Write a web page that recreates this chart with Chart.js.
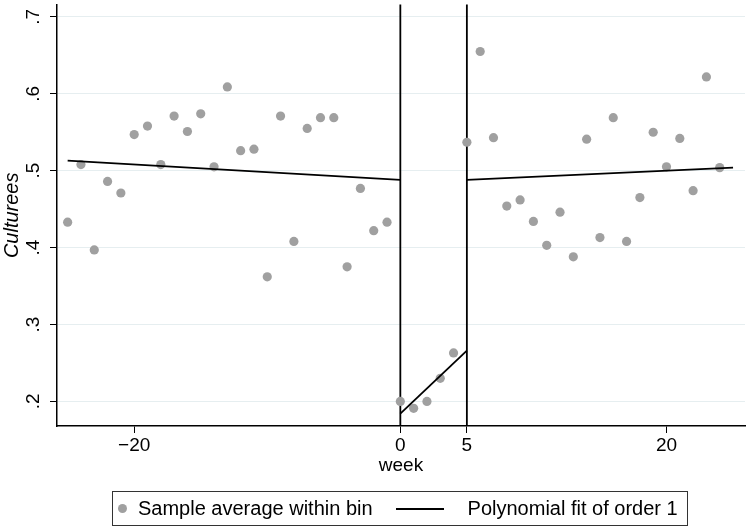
<!DOCTYPE html>
<html>
<head>
<meta charset="utf-8">
<script src="https://cdn.jsdelivr.net/npm/chart.js@4.4.0/dist/chart.umd.min.js"></script>
<style>
  body { margin: 0; background: #fff; }
  #wrap { position: relative; width: 750px; height: 528px; }
  #legend {
    position: absolute; left: 112px; top: 491px; width: 576px; height: 35px;
    border: 1px solid #333; box-sizing: border-box;
    display: flex; align-items: center; white-space: nowrap;
    font: 20px 'Liberation Sans', Arial, sans-serif; color: #000;
  }
  #legend .dot { width: 9px; height: 9px; border-radius: 50%; background: #a0a0a0; margin: 0 11px 0 5px; flex: none; }
  #legend .ln { width: 48px; height: 0; border-top: 2px solid #000; margin: 0 24px 0 23px; flex: none; }
</style>
</head>
<body>
<div id="wrap">
  <canvas id="chart" width="750" height="528"></canvas>
  <div id="legend">
    <span class="dot"></span><span>Sample average within bin</span>
    <span class="ln"></span><span>Polynomial fit of order 1</span>
  </div>
</div>
<script>
// bins (week) and sample averages within bin
const weeks = [-25, -24, -23, -22, -21, -20, -19, -18, -17, -16, -15, -14, -13, -12, -11, -10, -9, -8, -7, -6, -5, -4, -3, -2, -1,
  0, 1, 2, 3, 4,
  5, 6, 7, 8, 9, 10, 11, 12, 13, 14, 15, 16, 17, 18, 19, 20, 21, 22, 23, 24];
const means = [.433, .508, .397, .486, .471, .547, .558, .508, .571, .551, .574, .505, .609, .526, .528, .362, .571, .408, .555, .569, .569, .375, .477, .422, .433,
  .200, .191, .200, .230, .263,
  .537, .655, .543, .454, .462, .434, .403, .446, .388, .541, .413, .569, .408, .465, .550, .505, .542, .474, .622, .504];

// linear fits, one per segment: [start, end]
const fitWeeks = [[-25, 0], [0, 5], [5, 25]];
const fitValues = [[.513, .488], [.184, .266], [.488, .504]];

const cutoffs = [0, 5];
const xTicks = [-20, 0, 5, 20];
const yTicks = [.2, .3, .4, .5, .6, .7];

const FONT = "'Liberation Sans', Arial, sans-serif";
Chart.defaults.font.family = FONT;
Chart.defaults.color = '#000';

const fmtY = v => v.toFixed(1).replace(/^0/, '');
const fmtX = v => v < 0 ? '\u2212' + Math.abs(v) : String(v);

const datasets = [];
fitWeeks.forEach((seg, i) => {
  datasets.push({
    label: 'Polynomial fit of order 1',
    data: seg.map((w, j) => ({ x: w, y: fitValues[i][j] })),
    showLine: true,
    borderColor: '#000',
    borderWidth: 1.8,
    pointRadius: 0
  });
});
datasets.push({
  label: 'Sample average within bin',
  data: weeks.map((w, i) => ({ x: w, y: means[i] })),
  backgroundColor: '#a0a0a0',
  borderWidth: 0,
  pointRadius: 4.6
});

const extras = {
  id: 'extras',
  beforeDatasetsDraw(chart) {
    const { ctx, chartArea, scales: { x } } = chart;
    ctx.save();
    ctx.strokeStyle = '#000';
    ctx.lineWidth = 1.8;
    cutoffs.forEach(c => {
      const px = x.getPixelForValue(c);
      ctx.beginPath();
      ctx.moveTo(px, chartArea.top);
      ctx.lineTo(px, chartArea.bottom);
      ctx.stroke();
    });
    ctx.restore();
  },
  afterDraw(chart) {
    // Stata-style rotated y tick labels
    const { ctx, scales: { y } } = chart;
    ctx.save();
    ctx.font = '19px ' + FONT;
    ctx.fillStyle = '#000';
    ctx.textAlign = 'center';
    ctx.textBaseline = 'middle';
    y.ticks.forEach(t => {
      ctx.save();
      ctx.translate(34, y.getPixelForValue(t.value));
      ctx.rotate(-Math.PI / 2);
      ctx.fillText(fmtY(t.value), 0, 0);
      ctx.restore();
    });
    ctx.restore();
  }
};

new Chart(document.getElementById('chart'), {
  type: 'scatter',
  data: { datasets },
  options: {
    responsive: false,
    animation: false,
    layout: { padding: { left: 0, top: 3, right: 5, bottom: 51 } },
    plugins: { legend: { display: false }, tooltip: { enabled: false } },
    scales: {
      x: {
        min: -25.8,
        max: 25.9,
        afterBuildTicks: s => { s.ticks = xTicks.map(v => ({ value: v })); },
        afterFit: s => { s.height = 51; },
        grid: { drawOnChartArea: false, tickColor: '#000', tickLength: 7 },
        border: { display: true, color: '#000', width: 1.5 },
        ticks: { font: { size: 19 }, padding: 1, maxRotation: 0, callback: v => fmtX(v) },
        title: { display: true, text: 'week', font: { size: 19 }, padding: 0 }
      },
      y: {
        min: 0.168,
        max: 0.716,
        afterBuildTicks: s => { s.ticks = yTicks.map(v => ({ value: v })); },
        afterFit: s => { s.width = 57; },
        grid: { color: '#e6eef0', lineWidth: 1, tickColor: '#000', tickLength: 7 },
        border: { display: true, color: '#000', width: 1.5 },
        ticks: { display: false },
        title: { display: true, text: 'Culturees', font: { size: 20, style: 'italic' }, padding: 0 }
      }
    }
  },
  plugins: [extras]
});
</script>
</body>
</html>
